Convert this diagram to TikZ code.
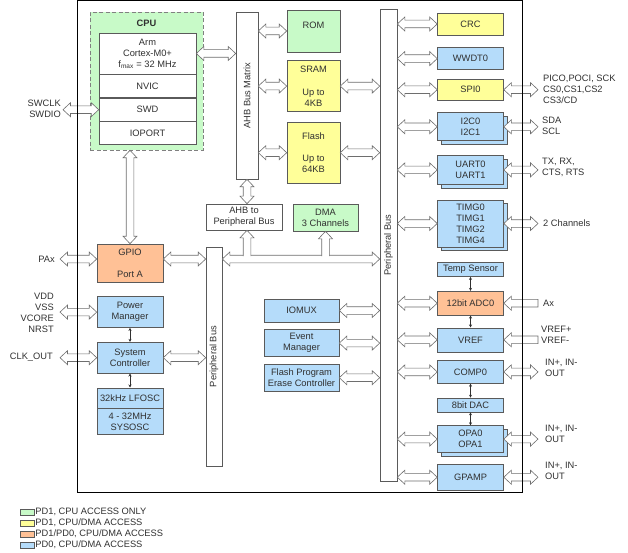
\documentclass[tikz,border=0pt]{standalone}
\usepackage{fontspec}
\setmainfont{Liberation Sans}
\usetikzlibrary{positioning,arrows.meta,calc,shadows}
\definecolor{txt}{HTML}{303030}
\definecolor{rahmen}{HTML}{5A5A5A}
\definecolor{pfeil}{HTML}{6E6E6E}
\definecolor{gruen}{HTML}{C8FAC8}
\definecolor{gelb}{HTML}{FFFF99}
\definecolor{pfirsich}{HTML}{FFC196}
\definecolor{blau}{HTML}{B5DCFA}

% hollow bus arrows, drawn between two points
\newcommand\hdbl[2]{\draw[hollow] let \p1=#1, \p2=#2 in
  (\x1,\y1) -- (\x1+7.5pt,\y1+7pt) -- (\x1+7.5pt,\y1+3.8pt) -- (\x2-7.5pt,\y1+3.8pt) -- (\x2-7.5pt,\y1+7pt)
  -- (\x2,\y1) -- (\x2-7.5pt,\y1-7pt) -- (\x2-7.5pt,\y1-3.8pt) -- (\x1+7.5pt,\y1-3.8pt) -- (\x1+7.5pt,\y1-7pt) -- cycle;}
\newcommand\vdbl[2]{\draw[hollow] let \p1=#1, \p2=#2 in
  (\x1,\y1) -- (\x1+7pt,\y1-7.5pt) -- (\x1+3.8pt,\y1-7.5pt) -- (\x1+3.8pt,\y2+7.5pt) -- (\x1+7pt,\y2+7.5pt)
  -- (\x1,\y2) -- (\x1-7pt,\y2+7.5pt) -- (\x1-3.8pt,\y2+7.5pt) -- (\x1-3.8pt,\y1-7.5pt) -- (\x1-7pt,\y1-7.5pt) -- cycle;}
\newcommand\lftarr[2]{\draw[hollow] let \p1=#1, \p2=#2 in
  (\x1,\y1) -- (\x1+7.5pt,\y1+7pt) -- (\x1+7.5pt,\y1+3.8pt) -- (\x2,\y1+3.8pt) -- (\x2,\y1-3.8pt)
  -- (\x1+7.5pt,\y1-3.8pt) -- (\x1+7.5pt,\y1-7pt) -- cycle;}
\newcommand\uparr[2]{\draw[hollow] let \p1=#1, \p2=#2 in
  (\x1-3.8pt,\y2+2.8pt) -- (\x1-3.8pt,\y1-7.5pt) -- (\x1-7pt,\y1-7.5pt) -- (\x1,\y1)
  -- (\x1+7pt,\y1-7.5pt) -- (\x1+3.8pt,\y1-7.5pt) -- (\x1+3.8pt,\y2+2.8pt);}

\begin{document}
\begin{tikzpicture}[x=1pt, y=-1pt,
  font=\fontsize{9.3}{11}\selectfont, text=txt,
  blk/.style={draw=rahmen, line width=0.6pt, inner sep=0pt, align=center, minimum width=66pt},
  grn/.style={blk, fill=gruen},
  ylw/.style={blk, fill=gelb},
  org/.style={blk, fill=pfirsich},
  blu/.style={blk, fill=blau},
  stack/.style={copy shadow={shadow xshift=3.5pt, shadow yshift=-3.5pt}},
  bus/.style={draw=rahmen, fill=white, line width=0.6pt, inner sep=0pt},
  hollow/.style={draw=pfeil, fill=white, line width=0.6pt},
  link/.style={<->, >={Stealth[length=3pt,width=3pt]}, line width=0.5pt, draw=txt},
  ext/.style={align=left, inner sep=0pt, anchor=west},
  pin/.style={align=right, inner sep=0pt, anchor=east},
  key/.style={draw=rahmen, line width=0.5pt, minimum width=14pt, minimum height=6pt, inner sep=0pt}
]
\useasboundingbox (0,0) rectangle (628,553);
\coordinate (xr) at (538,0);
\coordinate (xl) at (60,0);
\coordinate (xsw) at (63,0);
\coordinate (xt) at (543,0);
\coordinate (hb) at (0,259);

% CPU
\node[grn, draw=gray, dash pattern=on 4pt off 2.5pt, minimum width=113pt, minimum height=138pt] (cpu) at (146.5,81) {};
\node[font=\fontsize{9.3}{11}\selectfont\bfseries] (cpulbl) at (146.5,23) {CPU};
\node[blk, fill=white, minimum width=97pt, minimum height=41pt] (arm) at (147.5,53.5) {Arm\\Cortex-M0+\\f\textsubscript{max} = 32 MHz};
\node[blk, fill=white, minimum width=97pt, minimum height=23pt, below=0pt of arm] (nvic) {NVIC};
\node[blk, fill=white, minimum width=97pt, minimum height=23pt, below=0pt of nvic] (swd) {SWD};
\node[blk, fill=white, minimum width=97pt, minimum height=23pt, below=0pt of swd] (ioport) {IOPORT};

% AHB side
\node[bus, minimum width=22pt, minimum height=167pt] (ahbm) at (247,95.5) {};
\node[rotate=90] (ahbmlbl) at (ahbm) {AHB Bus Matrix};
\node[grn, minimum width=53pt, minimum height=42pt] (rom) at (313.5,31) {ROM\\\phantom{X}};
\node[ylw, minimum width=53pt, minimum height=51pt, below=8pt of rom] (sram) {SRAM\\[12pt]Up to\\4KB};
\node[ylw, minimum width=53pt, minimum height=61pt, below=10pt of sram] (flash) {Flash\\[11pt]Up to\\64KB};
\node[blk, fill=white, minimum width=76pt, minimum height=26pt] (ahbpb) at (244,217) {AHB to\\Peripheral Bus};
\node[grn, minimum width=65pt, minimum height=27pt] (dma) at (325.5,217.5) {DMA\\3 Channels};

% buses
\node[bus, minimum width=16pt, minimum height=219pt] (lbus) at (214,356.5) {};
\node[rotate=90] (lbuslbl) at (lbus) {Peripheral Bus};
\node[bus, minimum width=17pt, minimum height=472pt] (rbus) at (388.5,245) {};
\node[rotate=90] (rbuslbl) at (rbus) {Peripheral Bus};

% left column
\node[org, minimum height=38pt] (gpio) at (130,263) {GPIO\\[11pt]Port A};
\node[blu, minimum height=31pt, below=14pt of gpio] (pm) {Power\\Manager};
\node[blu, minimum height=31pt, below=14pt of pm] (sysc) {System\\Controller};
\node[blu, minimum height=20pt, below=14pt of sysc] (lfosc) {32kHz LFOSC};
\node[blu, minimum height=26pt, below=0pt of lfosc] (sysosc) {4 - 32MHz\\SYSOSC};

% middle
\node[blu, minimum width=75pt, minimum height=23pt] (iomux) at (301.5,310.5) {IOMUX};
\node[blu, minimum width=75pt, minimum height=27pt, below=7pt of iomux] (evm) {Event\\Manager};
\node[blu, minimum width=75pt, minimum height=27pt, below=7pt of evm] (fpec) {Flash Program\\Erase Controller};

% right column
\node[ylw, minimum height=22pt] (crc) at (470.5,24) {CRC};
\node[blu, minimum height=22pt, below=12pt of crc] (wwdt) {WWDT0};
\node[ylw, minimum height=21pt, below=9pt of wwdt] (spi) {SPI0};
\node[blu, stack, minimum height=28pt, below=12pt of spi] (i2c) {I2C0\\I2C1};
\node[blu, stack, minimum height=29pt, below=14pt of i2c] (uart) {UART0\\UART1};
\node[blu, stack, minimum height=47pt, below=15pt of uart] (timg) {TIMG0\\TIMG1\\TIMG2\\TIMG4};
\node[blu, minimum height=14pt, below=15pt of timg] (temp) {Temp Sensor};
\node[org, minimum height=24pt, below=14pt of temp] (adc) {12bit ADC0};
\node[blu, minimum height=24pt, below=12pt of adc] (vref) {VREF};
\node[blu, minimum height=23pt, below=8pt of vref] (comp) {COMP0};
\node[blu, minimum height=14pt, below=14pt of comp] (dac) {8bit DAC};
\node[blu, stack, minimum height=27pt, below=13pt of dac] (opa) {OPA0\\OPA1};
\node[blu, minimum height=26pt, below=11pt of opa] (gpamp) {GPAMP};

% pins
\node[pin] (swdlbl) at (61,109) {SWCLK\\SWDIO};
\node[pin] (palbl) at (55,259) {PAx};
\node[pin] (pwrlbl) at (54,312.5) {VDD\\VSS\\VCORE\\NRST};
\node[pin] (clklbl) at (53,357) {CLK\_OUT};
\node[ext] (spilbl) at (xt |- spi) {PICO,POCI, SCK\\CS0,CS1,CS2\\CS3/CD};
\node[ext] (i2clbl) at (542,126) {SDA\\SCL};
\node[ext] (uartlbl) at (542,167) {TX, RX,\\CTS, RTS};
\node[ext] (timglbl) at (xt |- timg) {2 Channels};
\node[ext] (adclbl) at (xt |- adc) {Ax};
\node[ext] (vreflbl) at (541,335) {VREF+\\VREF-};
\node[ext] (complbl) at (545,367.5) {IN+, IN-\\OUT};
\node[ext] (opalbl) at (545,434) {IN+, IN-\\OUT};
\node[ext] (gpamplbl) at (545,471) {IN+, IN-\\OUT};

% bus arrows
\hdbl{(arm.east)}{(ahbm.west |- arm.east)}
\hdbl{(ahbm.east |- rom)}{(rom.west)}
\hdbl{(ahbm.east |- sram)}{(sram.west)}
\hdbl{(ahbm.east |- flash)}{(flash.west)}
\hdbl{(sram.east)}{(rbus.west |- sram)}
\hdbl{(flash.east)}{(rbus.west |- flash)}
\vdbl{(ahbm.south)}{(ahbm.south |- ahbpb.north)}
\vdbl{(gpio.north |- cpu.south)}{(gpio.north)}
\hdbl{(lbus.east |- hb)}{(rbus.west |- hb)}
\uparr{(ahbm.south |- ahbpb.south)}{(ahbm.south |- hb)}
\uparr{(dma.south)}{(dma.south |- hb)}
\hdbl{(gpio.east |- hb)}{(lbus.west |- hb)}
\hdbl{(sysc.east)}{(lbus.west |- sysc)}
\foreach \b in {iomux,evm,fpec}
  \hdbl{(\b.east)}{(rbus.west |- \b)};
\foreach \b in {crc,wwdt,spi,i2c,uart,timg,adc,vref,comp,opa,gpamp}
  \hdbl{(rbus.east |- \b)}{(\b.west)};

% pin arrows
\hdbl{(xsw |- swd.west)}{(swd.west)}
\hdbl{(xl |- hb)}{(gpio.west |- hb)}
\hdbl{(xl |- pm)}{(pm.west)}
\hdbl{(xl |- sysc)}{(sysc.west)}
\foreach \b in {spi,i2c,uart,timg,comp,opa,gpamp}
  \hdbl{(\b.east)}{(xr |- \b)};
\lftarr{(adc.east)}{(xr |- adc)}
\lftarr{(vref.east)}{(xr |- vref)}

% small links
\draw[link] (pm) -- (sysc);
\draw[link] (sysc) -- (lfosc);
\draw[link] (temp) -- (adc);
\draw[link] (adc) -- (vref);
\draw[link] (comp) -- (dac);
\draw[link] (dac) -- (opa);

% chip outline
\node[draw=black, line width=1pt, minimum width=445pt, minimum height=491pt, inner sep=0pt] (chip) at (299.5,246.5) {};

% legend
\foreach \c/\t [count=\i] in {gruen/{PD1, CPU ACCESS ONLY}, gelb/{PD1, CPU/DMA ACCESS}, pfirsich/{PD1/PD0, CPU/DMA ACCESS}, blau/{PD0, CPU/DMA ACCESS}} {
  \node[key, fill=\c] (k\i) at (27,501+11*\i) {};
  \node[right=1pt of k\i, inner sep=0pt] (t\i) {\t};
}
\end{tikzpicture}
\end{document}
